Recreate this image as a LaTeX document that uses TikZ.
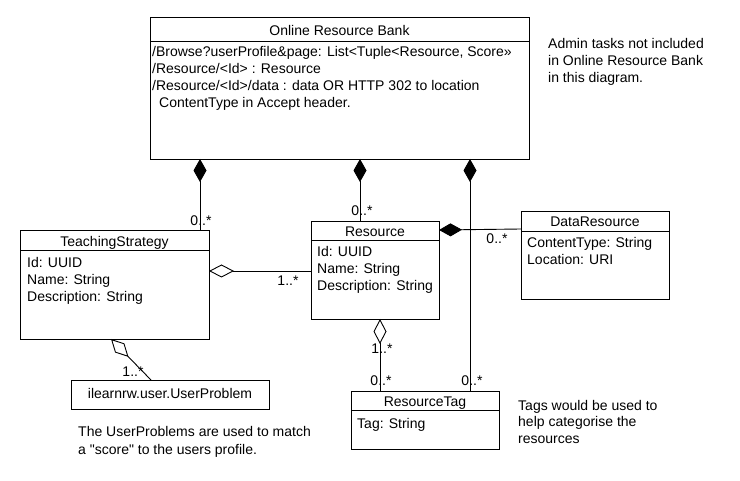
\documentclass[tikz,border=0pt]{standalone}
\usepackage{fontspec}
\setmainfont{Liberation Sans}
\usetikzlibrary{arrows.meta,calc}
\begin{document}
\begin{tikzpicture}[x=1pt,y=1pt,
  every node/.style={font=\fontsize{14}{17}\selectfont},
  umlbox/.style={draw,line width=0.9pt,anchor=north west,inner sep=0pt,outer sep=0pt},
  txt/.style={anchor=base west,align=left,inner sep=0pt},
  hdr/.style={inner sep=0pt},
  mult/.style={inner sep=0pt},
  conn/.style={line width=0.9pt},
  comp/.style={conn,{Diamond[length=23pt,width=13pt]}-},
  aggr/.style={conn,{Diamond[open,length=25pt,width=13pt,line width=0.9pt]}-}
]
\useasboundingbox[fill=white] (0,0) rectangle (740,480);

% Online Resource Bank
\node[umlbox,minimum width=379pt,minimum height=142pt] (orb) at (150,463) {};
\draw[line width=0.9pt] ([yshift=-24pt]orb.north west) -- ([yshift=-24pt]orb.north east);
\node[hdr] (orbh) at (339.5,450) {Online Resource Bank};
\node[txt] (orbt) at (152,372) {/Browse?userProfile\&page: List<Tuple<Resource, Score»\\/Resource/<Id> : Resource\\/Resource/<Id>/data : data OR HTTP 302 to location\\\hspace*{7pt}ContentType in Accept header.};

% TeachingStrategy
\node[umlbox,minimum width=189pt,minimum height=109pt] (ts) at (20,250) {};
\draw[line width=0.9pt] ([yshift=-20pt]ts.north west) -- ([yshift=-20pt]ts.north east);
\node[hdr] (tsh) at (114.5,237) {TeachingStrategy};
\node[txt] (tst) at (27,178) {Id: UUID\\Name: String\\Description: String};

% Resource
\node[umlbox,minimum width=128pt,minimum height=98pt] (res) at (311,259) {};
\draw[line width=0.9pt] ([yshift=-19pt]res.north west) -- ([yshift=-19pt]res.north east);
\node[hdr] (resh) at (375,248) {Resource};
\node[txt] (rest) at (317,189) {Id: UUID\\Name: String\\Description: String};

% DataResource
\node[umlbox,minimum width=148pt,minimum height=88pt] (dr) at (521,269) {};
\draw[line width=0.9pt] ([yshift=-20pt]dr.north west) -- ([yshift=-20pt]dr.north east);
\node[hdr] (drh) at (595,258) {DataResource};
\node[txt] (drt) at (527,215) {ContentType: String\\Location: URI};

% ResourceTag
\node[umlbox,minimum width=148pt,minimum height=58pt] (rt) at (351,89) {};
\draw[line width=0.9pt] ([yshift=-19pt]rt.north west) -- ([yshift=-19pt]rt.north east);
\node[hdr] (rth) at (425,77) {ResourceTag};
\node[txt] (rtt) at (357,52) {Tag: String};

% UserProblem
\node[umlbox,minimum width=198pt,minimum height=29pt] (up) at (71,100) {};
\node[hdr] (uph) at (170,86.5) {ilearnrw.user.UserProblem};

% Notes
\node[txt] (note1) at (548,397) {Admin tasks not included\\in Online Resource Bank\\in this diagram.};
\node[txt] (note2) at (518,36) {Tags would be used to\\help categorise the\\resources};
\node[txt] (note3) at (78,26) {The UserProblems are used to match\\a \textquotedbl score\textquotedbl{} to the users profile.};

% Connectors
\draw[comp] ([xshift=50pt]orb.south west) -- ([xshift=180pt]ts.north west);
\draw[comp] ([xshift=210pt]orb.south west) -- ([xshift=49pt]res.north west);
\draw[comp] ([xshift=320pt]orb.south west) -- ([xshift=119pt]rt.north west);
\draw[aggr] ([yshift=-41pt]ts.north east) -- ([yshift=-50pt]res.north west);
\draw[comp] ([yshift=-9pt]res.north east) -- ([yshift=-18pt]dr.north west);
\draw[aggr] ([xshift=69pt]res.south west) -- ([xshift=29pt]rt.north west);
\draw[aggr] ([xshift=91pt]ts.south west) -- ([xshift=80pt]up.north west);

% Multiplicities
\node[mult] (m1) at (201,259) {0..*};
\node[mult] (m2) at (362,269) {0..*};
\node[mult] (m3) at (288,199) {1..*};
\node[mult] (m4) at (497,241) {0..*};
\node[mult] (m5) at (382,131) {1..*};
\node[mult] (m6) at (381,99) {0..*};
\node[mult] (m7) at (472,99) {0..*};
\node[mult] (m8) at (133,108) {1..*};
\end{tikzpicture}
\end{document}
